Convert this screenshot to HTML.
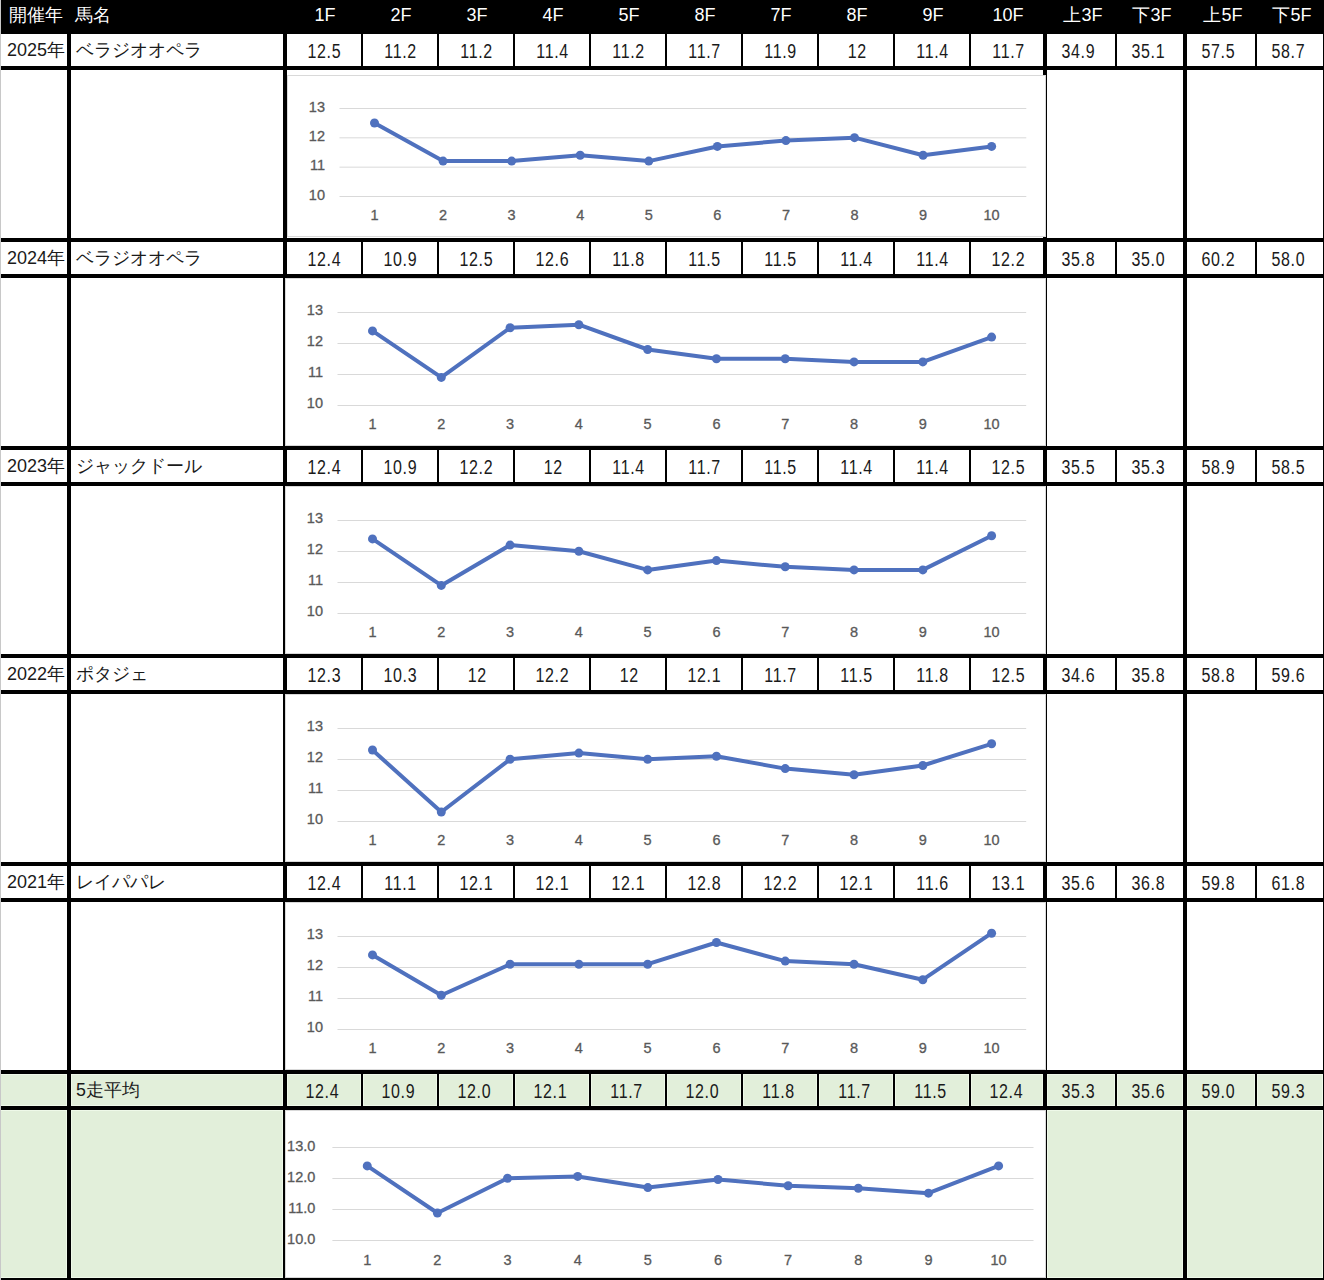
<!DOCTYPE html>
<html><head><meta charset="utf-8"><style>
html,body{margin:0;padding:0;}
body{width:1324px;height:1280px;position:relative;overflow:hidden;background:#fff;font-family:"Liberation Sans",sans-serif;}
body>div{position:absolute;}
.hj,.hd,.yr,.nm,.dv{height:32px;line-height:32px;white-space:nowrap;}
.hj{color:#fff;font-size:18px;text-align:center;height:34px;line-height:31px;}
.hl{text-align:left;}
.hd{color:#fff;font-size:18px;text-align:center;height:34px;line-height:31px;}
.yr{color:#1a1a1a;font-size:18px;text-align:center;line-height:33px;}
.nm{color:#1a1a1a;font-size:17.8px;text-align:left;line-height:33px;}
.dv{color:#1a1a1a;font-size:19.5px;text-align:center;line-height:34px;letter-spacing:0.8px;}
.dv span{display:inline-block;transform:scaleX(0.82);padding-left:0.8px;}
.ax{font-family:"Liberation Sans",sans-serif;font-size:14.5px;fill:#595959;stroke:#595959;stroke-width:0.3px;}
</style></head><body>
<div style="left:0px;top:0px;width:1324px;height:34px;background:#000;"></div>
<div class="hj" style="left:2px;top:0px;width:67px;"><span>開催年</span></div>
<div class="hj hl" style="left:75px;top:0px;width:208px;"><span>馬名</span></div>
<div class="hd" style="left:288px;top:0px;width:74px;"><span>1F</span></div>
<div class="hd" style="left:364px;top:0px;width:74px;"><span>2F</span></div>
<div class="hd" style="left:440px;top:0px;width:74px;"><span>3F</span></div>
<div class="hd" style="left:516px;top:0px;width:74px;"><span>4F</span></div>
<div class="hd" style="left:592px;top:0px;width:74px;"><span>5F</span></div>
<div class="hd" style="left:668px;top:0px;width:74px;"><span>8F</span></div>
<div class="hd" style="left:744px;top:0px;width:74px;"><span>7F</span></div>
<div class="hd" style="left:820px;top:0px;width:74px;"><span>8F</span></div>
<div class="hd" style="left:896px;top:0px;width:74px;"><span>9F</span></div>
<div class="hd" style="left:972px;top:0px;width:72px;"><span>10F</span></div>
<div class="hd" style="left:1049px;top:0px;width:68px;"><span>上3F</span></div>
<div class="hd" style="left:1119px;top:0px;width:66px;"><span>下3F</span></div>
<div class="hd" style="left:1189px;top:0px;width:68px;"><span>上5F</span></div>
<div class="hd" style="left:1259px;top:0px;width:66px;"><span>下5F</span></div>
<div style="left:1px;top:34px;width:1322px;height:204px;background:#fff;"></div>
<div class="yr" style="left:0px;top:34px;width:72px;"><span>2025年</span></div>
<div class="nm" style="left:76px;top:34px;width:207px;"><span>ベラジオオペラ</span></div>
<div class="dv" style="left:287px;top:34px;width:74px;"><span>12.5</span></div>
<div class="dv" style="left:363px;top:34px;width:74px;"><span>11.2</span></div>
<div class="dv" style="left:439px;top:34px;width:74px;"><span>11.2</span></div>
<div class="dv" style="left:515px;top:34px;width:74px;"><span>11.4</span></div>
<div class="dv" style="left:591px;top:34px;width:74px;"><span>11.2</span></div>
<div class="dv" style="left:667px;top:34px;width:74px;"><span>11.7</span></div>
<div class="dv" style="left:743px;top:34px;width:74px;"><span>11.9</span></div>
<div class="dv" style="left:820.3px;top:34px;width:74.0px;"><span>12</span></div>
<div class="dv" style="left:895px;top:34px;width:74px;"><span>11.4</span></div>
<div class="dv" style="left:972px;top:34px;width:72px;"><span>11.7</span></div>
<div class="dv" style="left:1044px;top:34px;width:68px;"><span>34.9</span></div>
<div class="dv" style="left:1114.5px;top:34px;width:66.0px;"><span>35.1</span></div>
<div class="dv" style="left:1184px;top:34px;width:68px;"><span>57.5</span></div>
<div class="dv" style="left:1255px;top:34px;width:66px;"><span>58.7</span></div>
<div style="left:361px;top:34px;width:2px;height:32px;background:#000;"></div>
<div style="left:437px;top:34px;width:2px;height:32px;background:#000;"></div>
<div style="left:513px;top:34px;width:2px;height:32px;background:#000;"></div>
<div style="left:589px;top:34px;width:2px;height:32px;background:#000;"></div>
<div style="left:665px;top:34px;width:2px;height:32px;background:#000;"></div>
<div style="left:741px;top:34px;width:2px;height:32px;background:#000;"></div>
<div style="left:817px;top:34px;width:2px;height:32px;background:#000;"></div>
<div style="left:893px;top:34px;width:2px;height:32px;background:#000;"></div>
<div style="left:969px;top:34px;width:2px;height:32px;background:#000;"></div>
<div style="left:1115px;top:34px;width:2px;height:32px;background:#000;"></div>
<div style="left:1255px;top:34px;width:2px;height:32px;background:#000;"></div>
<div style="left:1px;top:66px;width:1323px;height:4px;background:#000;"></div>
<div style="left:1px;top:238px;width:1323px;height:4px;background:#000;"></div>
<div style="left:1px;top:242px;width:1322px;height:204px;background:#fff;"></div>
<div class="yr" style="left:0px;top:242px;width:72px;"><span>2024年</span></div>
<div class="nm" style="left:76px;top:242px;width:207px;"><span>ベラジオオペラ</span></div>
<div class="dv" style="left:287px;top:242px;width:74px;"><span>12.4</span></div>
<div class="dv" style="left:363px;top:242px;width:74px;"><span>10.9</span></div>
<div class="dv" style="left:439px;top:242px;width:74px;"><span>12.5</span></div>
<div class="dv" style="left:515px;top:242px;width:74px;"><span>12.6</span></div>
<div class="dv" style="left:591px;top:242px;width:74px;"><span>11.8</span></div>
<div class="dv" style="left:667px;top:242px;width:74px;"><span>11.5</span></div>
<div class="dv" style="left:743px;top:242px;width:74px;"><span>11.5</span></div>
<div class="dv" style="left:819px;top:242px;width:74px;"><span>11.4</span></div>
<div class="dv" style="left:895px;top:242px;width:74px;"><span>11.4</span></div>
<div class="dv" style="left:972px;top:242px;width:72px;"><span>12.2</span></div>
<div class="dv" style="left:1044px;top:242px;width:68px;"><span>35.8</span></div>
<div class="dv" style="left:1114.5px;top:242px;width:66.0px;"><span>35.0</span></div>
<div class="dv" style="left:1184px;top:242px;width:68px;"><span>60.2</span></div>
<div class="dv" style="left:1255px;top:242px;width:66px;"><span>58.0</span></div>
<div style="left:361px;top:242px;width:2px;height:32px;background:#000;"></div>
<div style="left:437px;top:242px;width:2px;height:32px;background:#000;"></div>
<div style="left:513px;top:242px;width:2px;height:32px;background:#000;"></div>
<div style="left:589px;top:242px;width:2px;height:32px;background:#000;"></div>
<div style="left:665px;top:242px;width:2px;height:32px;background:#000;"></div>
<div style="left:741px;top:242px;width:2px;height:32px;background:#000;"></div>
<div style="left:817px;top:242px;width:2px;height:32px;background:#000;"></div>
<div style="left:893px;top:242px;width:2px;height:32px;background:#000;"></div>
<div style="left:969px;top:242px;width:2px;height:32px;background:#000;"></div>
<div style="left:1115px;top:242px;width:2px;height:32px;background:#000;"></div>
<div style="left:1255px;top:242px;width:2px;height:32px;background:#000;"></div>
<div style="left:1px;top:274px;width:1323px;height:4px;background:#000;"></div>
<div style="left:1px;top:446px;width:1323px;height:4px;background:#000;"></div>
<div style="left:1px;top:450px;width:1322px;height:204px;background:#fff;"></div>
<div class="yr" style="left:0px;top:450px;width:72px;"><span>2023年</span></div>
<div class="nm" style="left:76px;top:450px;width:207px;"><span>ジャックドール</span></div>
<div class="dv" style="left:287px;top:450px;width:74px;"><span>12.4</span></div>
<div class="dv" style="left:363px;top:450px;width:74px;"><span>10.9</span></div>
<div class="dv" style="left:439px;top:450px;width:74px;"><span>12.2</span></div>
<div class="dv" style="left:516.3px;top:450px;width:74.0px;"><span>12</span></div>
<div class="dv" style="left:591px;top:450px;width:74px;"><span>11.4</span></div>
<div class="dv" style="left:667px;top:450px;width:74px;"><span>11.7</span></div>
<div class="dv" style="left:743px;top:450px;width:74px;"><span>11.5</span></div>
<div class="dv" style="left:819px;top:450px;width:74px;"><span>11.4</span></div>
<div class="dv" style="left:895px;top:450px;width:74px;"><span>11.4</span></div>
<div class="dv" style="left:972px;top:450px;width:72px;"><span>12.5</span></div>
<div class="dv" style="left:1044px;top:450px;width:68px;"><span>35.5</span></div>
<div class="dv" style="left:1114.5px;top:450px;width:66.0px;"><span>35.3</span></div>
<div class="dv" style="left:1184px;top:450px;width:68px;"><span>58.9</span></div>
<div class="dv" style="left:1255px;top:450px;width:66px;"><span>58.5</span></div>
<div style="left:361px;top:450px;width:2px;height:32px;background:#000;"></div>
<div style="left:437px;top:450px;width:2px;height:32px;background:#000;"></div>
<div style="left:513px;top:450px;width:2px;height:32px;background:#000;"></div>
<div style="left:589px;top:450px;width:2px;height:32px;background:#000;"></div>
<div style="left:665px;top:450px;width:2px;height:32px;background:#000;"></div>
<div style="left:741px;top:450px;width:2px;height:32px;background:#000;"></div>
<div style="left:817px;top:450px;width:2px;height:32px;background:#000;"></div>
<div style="left:893px;top:450px;width:2px;height:32px;background:#000;"></div>
<div style="left:969px;top:450px;width:2px;height:32px;background:#000;"></div>
<div style="left:1115px;top:450px;width:2px;height:32px;background:#000;"></div>
<div style="left:1255px;top:450px;width:2px;height:32px;background:#000;"></div>
<div style="left:1px;top:482px;width:1323px;height:4px;background:#000;"></div>
<div style="left:1px;top:654px;width:1323px;height:4px;background:#000;"></div>
<div style="left:1px;top:658px;width:1322px;height:204px;background:#fff;"></div>
<div class="yr" style="left:0px;top:658px;width:72px;"><span>2022年</span></div>
<div class="nm" style="left:76px;top:658px;width:207px;"><span>ポタジェ</span></div>
<div class="dv" style="left:287px;top:658px;width:74px;"><span>12.3</span></div>
<div class="dv" style="left:363px;top:658px;width:74px;"><span>10.3</span></div>
<div class="dv" style="left:440.3px;top:658px;width:73.99999999999994px;"><span>12</span></div>
<div class="dv" style="left:515px;top:658px;width:74px;"><span>12.2</span></div>
<div class="dv" style="left:592.3px;top:658px;width:74.0px;"><span>12</span></div>
<div class="dv" style="left:667px;top:658px;width:74px;"><span>12.1</span></div>
<div class="dv" style="left:743px;top:658px;width:74px;"><span>11.7</span></div>
<div class="dv" style="left:819px;top:658px;width:74px;"><span>11.5</span></div>
<div class="dv" style="left:895px;top:658px;width:74px;"><span>11.8</span></div>
<div class="dv" style="left:972px;top:658px;width:72px;"><span>12.5</span></div>
<div class="dv" style="left:1044px;top:658px;width:68px;"><span>34.6</span></div>
<div class="dv" style="left:1114.5px;top:658px;width:66.0px;"><span>35.8</span></div>
<div class="dv" style="left:1184px;top:658px;width:68px;"><span>58.8</span></div>
<div class="dv" style="left:1255px;top:658px;width:66px;"><span>59.6</span></div>
<div style="left:361px;top:658px;width:2px;height:32px;background:#000;"></div>
<div style="left:437px;top:658px;width:2px;height:32px;background:#000;"></div>
<div style="left:513px;top:658px;width:2px;height:32px;background:#000;"></div>
<div style="left:589px;top:658px;width:2px;height:32px;background:#000;"></div>
<div style="left:665px;top:658px;width:2px;height:32px;background:#000;"></div>
<div style="left:741px;top:658px;width:2px;height:32px;background:#000;"></div>
<div style="left:817px;top:658px;width:2px;height:32px;background:#000;"></div>
<div style="left:893px;top:658px;width:2px;height:32px;background:#000;"></div>
<div style="left:969px;top:658px;width:2px;height:32px;background:#000;"></div>
<div style="left:1115px;top:658px;width:2px;height:32px;background:#000;"></div>
<div style="left:1255px;top:658px;width:2px;height:32px;background:#000;"></div>
<div style="left:1px;top:690px;width:1323px;height:4px;background:#000;"></div>
<div style="left:1px;top:862px;width:1323px;height:4px;background:#000;"></div>
<div style="left:1px;top:866px;width:1322px;height:204px;background:#fff;"></div>
<div class="yr" style="left:0px;top:866px;width:72px;"><span>2021年</span></div>
<div class="nm" style="left:76px;top:866px;width:207px;"><span>レイパパレ</span></div>
<div class="dv" style="left:287px;top:866px;width:74px;"><span>12.4</span></div>
<div class="dv" style="left:363px;top:866px;width:74px;"><span>11.1</span></div>
<div class="dv" style="left:439px;top:866px;width:74px;"><span>12.1</span></div>
<div class="dv" style="left:515px;top:866px;width:74px;"><span>12.1</span></div>
<div class="dv" style="left:591px;top:866px;width:74px;"><span>12.1</span></div>
<div class="dv" style="left:667px;top:866px;width:74px;"><span>12.8</span></div>
<div class="dv" style="left:743px;top:866px;width:74px;"><span>12.2</span></div>
<div class="dv" style="left:819px;top:866px;width:74px;"><span>12.1</span></div>
<div class="dv" style="left:895px;top:866px;width:74px;"><span>11.6</span></div>
<div class="dv" style="left:972px;top:866px;width:72px;"><span>13.1</span></div>
<div class="dv" style="left:1044px;top:866px;width:68px;"><span>35.6</span></div>
<div class="dv" style="left:1114.5px;top:866px;width:66.0px;"><span>36.8</span></div>
<div class="dv" style="left:1184px;top:866px;width:68px;"><span>59.8</span></div>
<div class="dv" style="left:1255px;top:866px;width:66px;"><span>61.8</span></div>
<div style="left:361px;top:866px;width:2px;height:32px;background:#000;"></div>
<div style="left:437px;top:866px;width:2px;height:32px;background:#000;"></div>
<div style="left:513px;top:866px;width:2px;height:32px;background:#000;"></div>
<div style="left:589px;top:866px;width:2px;height:32px;background:#000;"></div>
<div style="left:665px;top:866px;width:2px;height:32px;background:#000;"></div>
<div style="left:741px;top:866px;width:2px;height:32px;background:#000;"></div>
<div style="left:817px;top:866px;width:2px;height:32px;background:#000;"></div>
<div style="left:893px;top:866px;width:2px;height:32px;background:#000;"></div>
<div style="left:969px;top:866px;width:2px;height:32px;background:#000;"></div>
<div style="left:1115px;top:866px;width:2px;height:32px;background:#000;"></div>
<div style="left:1255px;top:866px;width:2px;height:32px;background:#000;"></div>
<div style="left:1px;top:898px;width:1323px;height:4px;background:#000;"></div>
<div style="left:1px;top:1070px;width:1323px;height:4px;background:#000;"></div>
<div style="left:1px;top:1074px;width:1322px;height:204px;background:#e2efda;"></div>
<div style="left:1px;top:1074px;width:1322px;height:1px;background:#eff9e9;"></div>
<div style="left:1px;top:1105px;width:1322px;height:1px;background:#eff9e9;"></div>
<div style="left:1px;top:1110px;width:1322px;height:1px;background:#eff9e9;"></div>
<div style="left:1px;top:1277px;width:1322px;height:1px;background:#eff9e9;"></div>
<div style="left:66px;top:1074px;width:1px;height:204px;background:#eff9e9;"></div>
<div style="left:71px;top:1074px;width:1px;height:204px;background:#eff9e9;"></div>
<div style="left:282px;top:1074px;width:1px;height:204px;background:#eff9e9;"></div>
<div style="left:287px;top:1074px;width:1px;height:204px;background:#eff9e9;"></div>
<div style="left:1042px;top:1074px;width:1px;height:204px;background:#eff9e9;"></div>
<div style="left:1047px;top:1074px;width:1px;height:204px;background:#eff9e9;"></div>
<div style="left:1182px;top:1074px;width:1px;height:204px;background:#eff9e9;"></div>
<div style="left:1187px;top:1074px;width:1px;height:204px;background:#eff9e9;"></div>
<div style="left:1322px;top:1074px;width:1px;height:204px;background:#eff9e9;"></div>
<div style="left:360px;top:1074px;width:1px;height:32px;background:#eff9e9;"></div>
<div style="left:363px;top:1074px;width:1px;height:32px;background:#eff9e9;"></div>
<div style="left:436px;top:1074px;width:1px;height:32px;background:#eff9e9;"></div>
<div style="left:439px;top:1074px;width:1px;height:32px;background:#eff9e9;"></div>
<div style="left:512px;top:1074px;width:1px;height:32px;background:#eff9e9;"></div>
<div style="left:515px;top:1074px;width:1px;height:32px;background:#eff9e9;"></div>
<div style="left:588px;top:1074px;width:1px;height:32px;background:#eff9e9;"></div>
<div style="left:591px;top:1074px;width:1px;height:32px;background:#eff9e9;"></div>
<div style="left:664px;top:1074px;width:1px;height:32px;background:#eff9e9;"></div>
<div style="left:667px;top:1074px;width:1px;height:32px;background:#eff9e9;"></div>
<div style="left:740px;top:1074px;width:1px;height:32px;background:#eff9e9;"></div>
<div style="left:743px;top:1074px;width:1px;height:32px;background:#eff9e9;"></div>
<div style="left:816px;top:1074px;width:1px;height:32px;background:#eff9e9;"></div>
<div style="left:819px;top:1074px;width:1px;height:32px;background:#eff9e9;"></div>
<div style="left:892px;top:1074px;width:1px;height:32px;background:#eff9e9;"></div>
<div style="left:895px;top:1074px;width:1px;height:32px;background:#eff9e9;"></div>
<div style="left:968px;top:1074px;width:1px;height:32px;background:#eff9e9;"></div>
<div style="left:971px;top:1074px;width:1px;height:32px;background:#eff9e9;"></div>
<div style="left:1114px;top:1074px;width:1px;height:32px;background:#eff9e9;"></div>
<div style="left:1117px;top:1074px;width:1px;height:32px;background:#eff9e9;"></div>
<div style="left:1254px;top:1074px;width:1px;height:32px;background:#eff9e9;"></div>
<div style="left:1257px;top:1074px;width:1px;height:32px;background:#eff9e9;"></div>
<div class="nm" style="left:76px;top:1074px;width:207px;"><span>5走平均</span></div>
<div class="dv" style="left:285px;top:1074px;width:74px;"><span>12.4</span></div>
<div class="dv" style="left:361px;top:1074px;width:74px;"><span>10.9</span></div>
<div class="dv" style="left:437px;top:1074px;width:74px;"><span>12.0</span></div>
<div class="dv" style="left:513px;top:1074px;width:74px;"><span>12.1</span></div>
<div class="dv" style="left:589px;top:1074px;width:74px;"><span>11.7</span></div>
<div class="dv" style="left:665px;top:1074px;width:74px;"><span>12.0</span></div>
<div class="dv" style="left:741px;top:1074px;width:74px;"><span>11.8</span></div>
<div class="dv" style="left:817px;top:1074px;width:74px;"><span>11.7</span></div>
<div class="dv" style="left:893px;top:1074px;width:74px;"><span>11.5</span></div>
<div class="dv" style="left:970px;top:1074px;width:72px;"><span>12.4</span></div>
<div class="dv" style="left:1044px;top:1074px;width:68px;"><span>35.3</span></div>
<div class="dv" style="left:1114.5px;top:1074px;width:66.0px;"><span>35.6</span></div>
<div class="dv" style="left:1184px;top:1074px;width:68px;"><span>59.0</span></div>
<div class="dv" style="left:1255px;top:1074px;width:66px;"><span>59.3</span></div>
<div style="left:361px;top:1074px;width:2px;height:32px;background:#000;"></div>
<div style="left:437px;top:1074px;width:2px;height:32px;background:#000;"></div>
<div style="left:513px;top:1074px;width:2px;height:32px;background:#000;"></div>
<div style="left:589px;top:1074px;width:2px;height:32px;background:#000;"></div>
<div style="left:665px;top:1074px;width:2px;height:32px;background:#000;"></div>
<div style="left:741px;top:1074px;width:2px;height:32px;background:#000;"></div>
<div style="left:817px;top:1074px;width:2px;height:32px;background:#000;"></div>
<div style="left:893px;top:1074px;width:2px;height:32px;background:#000;"></div>
<div style="left:969px;top:1074px;width:2px;height:32px;background:#000;"></div>
<div style="left:1115px;top:1074px;width:2px;height:32px;background:#000;"></div>
<div style="left:1255px;top:1074px;width:2px;height:32px;background:#000;"></div>
<div style="left:1px;top:1106px;width:1323px;height:4px;background:#000;"></div>
<div style="left:1px;top:1278px;width:1323px;height:2px;background:#000;"></div>
<div style="left:67px;top:34px;width:4px;height:1246px;background:#000;"></div>
<div style="left:283px;top:34px;width:4px;height:1246px;background:#000;"></div>
<div style="left:1043px;top:34px;width:4px;height:1246px;background:#000;"></div>
<div style="left:1183px;top:34px;width:4px;height:1246px;background:#000;"></div>
<div style="left:1323px;top:34px;width:1px;height:1246px;background:#000;"></div>
<div style="left:0px;top:0px;width:1px;height:1280px;background:#c8c8c8;"></div>
<svg style="position:absolute;left:287px;top:75px" width="759" height="162" viewBox="0 0 759 162"><rect x="0" y="0" width="759" height="162" fill="#fff"/><rect x="0.5" y="0.5" width="758" height="161" fill="none" stroke="#d9d9d9" stroke-width="1"/><line x1="52.5" y1="33.50" x2="739.3" y2="33.50" stroke="#d9d9d9" stroke-width="1"/><text x="38" y="36.50" class="ax" text-anchor="end">13</text><line x1="52.5" y1="62.83" x2="739.3" y2="62.83" stroke="#d9d9d9" stroke-width="1"/><text x="38" y="65.83" class="ax" text-anchor="end">12</text><line x1="52.5" y1="92.17" x2="739.3" y2="92.17" stroke="#d9d9d9" stroke-width="1"/><text x="38" y="95.17" class="ax" text-anchor="end">11</text><line x1="52.5" y1="121.50" x2="739.3" y2="121.50" stroke="#d9d9d9" stroke-width="1"/><text x="38" y="124.50" class="ax" text-anchor="end">10</text><text x="87.50" y="145.00" class="ax" text-anchor="middle">1</text><text x="156.07" y="145.00" class="ax" text-anchor="middle">2</text><text x="224.64" y="145.00" class="ax" text-anchor="middle">3</text><text x="293.21" y="145.00" class="ax" text-anchor="middle">4</text><text x="361.78" y="145.00" class="ax" text-anchor="middle">5</text><text x="430.35" y="145.00" class="ax" text-anchor="middle">6</text><text x="498.92" y="145.00" class="ax" text-anchor="middle">7</text><text x="567.49" y="145.00" class="ax" text-anchor="middle">8</text><text x="636.06" y="145.00" class="ax" text-anchor="middle">9</text><text x="704.63" y="145.00" class="ax" text-anchor="middle">10</text><polyline fill="none" stroke="#4f71be" stroke-width="4" stroke-linejoin="round" points="87.50,47.97 156.07,86.10 224.64,86.10 293.21,80.23 361.78,86.10 430.35,71.43 498.92,65.57 567.49,62.63 636.06,80.23 704.63,71.43"/><circle cx="87.50" cy="47.97" r="4.5" fill="#4f71be"/><circle cx="156.07" cy="86.10" r="4.5" fill="#4f71be"/><circle cx="224.64" cy="86.10" r="4.5" fill="#4f71be"/><circle cx="293.21" cy="80.23" r="4.5" fill="#4f71be"/><circle cx="361.78" cy="86.10" r="4.5" fill="#4f71be"/><circle cx="430.35" cy="71.43" r="4.5" fill="#4f71be"/><circle cx="498.92" cy="65.57" r="4.5" fill="#4f71be"/><circle cx="567.49" cy="62.63" r="4.5" fill="#4f71be"/><circle cx="636.06" cy="80.23" r="4.5" fill="#4f71be"/><circle cx="704.63" cy="71.43" r="4.5" fill="#4f71be"/></svg>
<svg style="position:absolute;left:285px;top:278px" width="761" height="168" viewBox="0 0 761 168"><rect x="0" y="0" width="761" height="168" fill="#fff"/><rect x="0.5" y="0.5" width="760" height="167" fill="none" stroke="#d9d9d9" stroke-width="1"/><line x1="52.5" y1="34.50" x2="741.2" y2="34.50" stroke="#d9d9d9" stroke-width="1"/><text x="38" y="36.50" class="ax" text-anchor="end">13</text><line x1="52.5" y1="65.50" x2="741.2" y2="65.50" stroke="#d9d9d9" stroke-width="1"/><text x="38" y="67.50" class="ax" text-anchor="end">12</text><line x1="52.5" y1="96.50" x2="741.2" y2="96.50" stroke="#d9d9d9" stroke-width="1"/><text x="38" y="98.50" class="ax" text-anchor="end">11</text><line x1="52.5" y1="127.50" x2="741.2" y2="127.50" stroke="#d9d9d9" stroke-width="1"/><text x="38" y="129.50" class="ax" text-anchor="end">10</text><text x="87.50" y="151.20" class="ax" text-anchor="middle">1</text><text x="156.29" y="151.20" class="ax" text-anchor="middle">2</text><text x="225.08" y="151.20" class="ax" text-anchor="middle">3</text><text x="293.87" y="151.20" class="ax" text-anchor="middle">4</text><text x="362.66" y="151.20" class="ax" text-anchor="middle">5</text><text x="431.45" y="151.20" class="ax" text-anchor="middle">6</text><text x="500.24" y="151.20" class="ax" text-anchor="middle">7</text><text x="569.03" y="151.20" class="ax" text-anchor="middle">8</text><text x="637.82" y="151.20" class="ax" text-anchor="middle">9</text><text x="706.61" y="151.20" class="ax" text-anchor="middle">10</text><polyline fill="none" stroke="#4f71be" stroke-width="4" stroke-linejoin="round" points="87.50,52.90 156.29,99.40 225.08,49.80 293.87,46.70 362.66,71.50 431.45,80.80 500.24,80.80 569.03,83.90 637.82,83.90 706.61,59.10"/><circle cx="87.50" cy="52.90" r="4.5" fill="#4f71be"/><circle cx="156.29" cy="99.40" r="4.5" fill="#4f71be"/><circle cx="225.08" cy="49.80" r="4.5" fill="#4f71be"/><circle cx="293.87" cy="46.70" r="4.5" fill="#4f71be"/><circle cx="362.66" cy="71.50" r="4.5" fill="#4f71be"/><circle cx="431.45" cy="80.80" r="4.5" fill="#4f71be"/><circle cx="500.24" cy="80.80" r="4.5" fill="#4f71be"/><circle cx="569.03" cy="83.90" r="4.5" fill="#4f71be"/><circle cx="637.82" cy="83.90" r="4.5" fill="#4f71be"/><circle cx="706.61" cy="59.10" r="4.5" fill="#4f71be"/></svg>
<svg style="position:absolute;left:285px;top:486px" width="761" height="168" viewBox="0 0 761 168"><rect x="0" y="0" width="761" height="168" fill="#fff"/><rect x="0.5" y="0.5" width="760" height="167" fill="none" stroke="#d9d9d9" stroke-width="1"/><line x1="52.5" y1="34.50" x2="741.2" y2="34.50" stroke="#d9d9d9" stroke-width="1"/><text x="38" y="36.50" class="ax" text-anchor="end">13</text><line x1="52.5" y1="65.50" x2="741.2" y2="65.50" stroke="#d9d9d9" stroke-width="1"/><text x="38" y="67.50" class="ax" text-anchor="end">12</text><line x1="52.5" y1="96.50" x2="741.2" y2="96.50" stroke="#d9d9d9" stroke-width="1"/><text x="38" y="98.50" class="ax" text-anchor="end">11</text><line x1="52.5" y1="127.50" x2="741.2" y2="127.50" stroke="#d9d9d9" stroke-width="1"/><text x="38" y="129.50" class="ax" text-anchor="end">10</text><text x="87.50" y="151.20" class="ax" text-anchor="middle">1</text><text x="156.29" y="151.20" class="ax" text-anchor="middle">2</text><text x="225.08" y="151.20" class="ax" text-anchor="middle">3</text><text x="293.87" y="151.20" class="ax" text-anchor="middle">4</text><text x="362.66" y="151.20" class="ax" text-anchor="middle">5</text><text x="431.45" y="151.20" class="ax" text-anchor="middle">6</text><text x="500.24" y="151.20" class="ax" text-anchor="middle">7</text><text x="569.03" y="151.20" class="ax" text-anchor="middle">8</text><text x="637.82" y="151.20" class="ax" text-anchor="middle">9</text><text x="706.61" y="151.20" class="ax" text-anchor="middle">10</text><polyline fill="none" stroke="#4f71be" stroke-width="4" stroke-linejoin="round" points="87.50,52.90 156.29,99.40 225.08,59.10 293.87,65.30 362.66,83.90 431.45,74.60 500.24,80.80 569.03,83.90 637.82,83.90 706.61,49.80"/><circle cx="87.50" cy="52.90" r="4.5" fill="#4f71be"/><circle cx="156.29" cy="99.40" r="4.5" fill="#4f71be"/><circle cx="225.08" cy="59.10" r="4.5" fill="#4f71be"/><circle cx="293.87" cy="65.30" r="4.5" fill="#4f71be"/><circle cx="362.66" cy="83.90" r="4.5" fill="#4f71be"/><circle cx="431.45" cy="74.60" r="4.5" fill="#4f71be"/><circle cx="500.24" cy="80.80" r="4.5" fill="#4f71be"/><circle cx="569.03" cy="83.90" r="4.5" fill="#4f71be"/><circle cx="637.82" cy="83.90" r="4.5" fill="#4f71be"/><circle cx="706.61" cy="49.80" r="4.5" fill="#4f71be"/></svg>
<svg style="position:absolute;left:285px;top:694px" width="761" height="168" viewBox="0 0 761 168"><rect x="0" y="0" width="761" height="168" fill="#fff"/><rect x="0.5" y="0.5" width="760" height="167" fill="none" stroke="#d9d9d9" stroke-width="1"/><line x1="52.5" y1="34.50" x2="741.2" y2="34.50" stroke="#d9d9d9" stroke-width="1"/><text x="38" y="36.50" class="ax" text-anchor="end">13</text><line x1="52.5" y1="65.50" x2="741.2" y2="65.50" stroke="#d9d9d9" stroke-width="1"/><text x="38" y="67.50" class="ax" text-anchor="end">12</text><line x1="52.5" y1="96.50" x2="741.2" y2="96.50" stroke="#d9d9d9" stroke-width="1"/><text x="38" y="98.50" class="ax" text-anchor="end">11</text><line x1="52.5" y1="127.50" x2="741.2" y2="127.50" stroke="#d9d9d9" stroke-width="1"/><text x="38" y="129.50" class="ax" text-anchor="end">10</text><text x="87.50" y="151.20" class="ax" text-anchor="middle">1</text><text x="156.29" y="151.20" class="ax" text-anchor="middle">2</text><text x="225.08" y="151.20" class="ax" text-anchor="middle">3</text><text x="293.87" y="151.20" class="ax" text-anchor="middle">4</text><text x="362.66" y="151.20" class="ax" text-anchor="middle">5</text><text x="431.45" y="151.20" class="ax" text-anchor="middle">6</text><text x="500.24" y="151.20" class="ax" text-anchor="middle">7</text><text x="569.03" y="151.20" class="ax" text-anchor="middle">8</text><text x="637.82" y="151.20" class="ax" text-anchor="middle">9</text><text x="706.61" y="151.20" class="ax" text-anchor="middle">10</text><polyline fill="none" stroke="#4f71be" stroke-width="4" stroke-linejoin="round" points="87.50,56.00 156.29,118.00 225.08,65.30 293.87,59.10 362.66,65.30 431.45,62.20 500.24,74.60 569.03,80.80 637.82,71.50 706.61,49.80"/><circle cx="87.50" cy="56.00" r="4.5" fill="#4f71be"/><circle cx="156.29" cy="118.00" r="4.5" fill="#4f71be"/><circle cx="225.08" cy="65.30" r="4.5" fill="#4f71be"/><circle cx="293.87" cy="59.10" r="4.5" fill="#4f71be"/><circle cx="362.66" cy="65.30" r="4.5" fill="#4f71be"/><circle cx="431.45" cy="62.20" r="4.5" fill="#4f71be"/><circle cx="500.24" cy="74.60" r="4.5" fill="#4f71be"/><circle cx="569.03" cy="80.80" r="4.5" fill="#4f71be"/><circle cx="637.82" cy="71.50" r="4.5" fill="#4f71be"/><circle cx="706.61" cy="49.80" r="4.5" fill="#4f71be"/></svg>
<svg style="position:absolute;left:285px;top:902px" width="761" height="168" viewBox="0 0 761 168"><rect x="0" y="0" width="761" height="168" fill="#fff"/><rect x="0.5" y="0.5" width="760" height="167" fill="none" stroke="#d9d9d9" stroke-width="1"/><line x1="52.5" y1="34.50" x2="741.2" y2="34.50" stroke="#d9d9d9" stroke-width="1"/><text x="38" y="36.50" class="ax" text-anchor="end">13</text><line x1="52.5" y1="65.50" x2="741.2" y2="65.50" stroke="#d9d9d9" stroke-width="1"/><text x="38" y="67.50" class="ax" text-anchor="end">12</text><line x1="52.5" y1="96.50" x2="741.2" y2="96.50" stroke="#d9d9d9" stroke-width="1"/><text x="38" y="98.50" class="ax" text-anchor="end">11</text><line x1="52.5" y1="127.50" x2="741.2" y2="127.50" stroke="#d9d9d9" stroke-width="1"/><text x="38" y="129.50" class="ax" text-anchor="end">10</text><text x="87.50" y="151.20" class="ax" text-anchor="middle">1</text><text x="156.29" y="151.20" class="ax" text-anchor="middle">2</text><text x="225.08" y="151.20" class="ax" text-anchor="middle">3</text><text x="293.87" y="151.20" class="ax" text-anchor="middle">4</text><text x="362.66" y="151.20" class="ax" text-anchor="middle">5</text><text x="431.45" y="151.20" class="ax" text-anchor="middle">6</text><text x="500.24" y="151.20" class="ax" text-anchor="middle">7</text><text x="569.03" y="151.20" class="ax" text-anchor="middle">8</text><text x="637.82" y="151.20" class="ax" text-anchor="middle">9</text><text x="706.61" y="151.20" class="ax" text-anchor="middle">10</text><polyline fill="none" stroke="#4f71be" stroke-width="4" stroke-linejoin="round" points="87.50,52.90 156.29,93.20 225.08,62.20 293.87,62.20 362.66,62.20 431.45,40.50 500.24,59.10 569.03,62.20 637.82,77.70 706.61,31.20"/><circle cx="87.50" cy="52.90" r="4.5" fill="#4f71be"/><circle cx="156.29" cy="93.20" r="4.5" fill="#4f71be"/><circle cx="225.08" cy="62.20" r="4.5" fill="#4f71be"/><circle cx="293.87" cy="62.20" r="4.5" fill="#4f71be"/><circle cx="362.66" cy="62.20" r="4.5" fill="#4f71be"/><circle cx="431.45" cy="40.50" r="4.5" fill="#4f71be"/><circle cx="500.24" cy="59.10" r="4.5" fill="#4f71be"/><circle cx="569.03" cy="62.20" r="4.5" fill="#4f71be"/><circle cx="637.82" cy="77.70" r="4.5" fill="#4f71be"/><circle cx="706.61" cy="31.20" r="4.5" fill="#4f71be"/></svg>
<svg style="position:absolute;left:285px;top:1110px" width="761" height="168" viewBox="0 0 761 168"><rect x="0" y="0" width="761" height="168" fill="#fff"/><rect x="0.5" y="0.5" width="760" height="167" fill="none" stroke="#d9d9d9" stroke-width="1"/><line x1="47.39999999999998" y1="37.50" x2="748.5" y2="37.50" stroke="#d9d9d9" stroke-width="1"/><text x="30.30000000000001" y="40.50" class="ax" text-anchor="end">13.0</text><line x1="47.39999999999998" y1="68.50" x2="748.5" y2="68.50" stroke="#d9d9d9" stroke-width="1"/><text x="30.30000000000001" y="71.50" class="ax" text-anchor="end">12.0</text><line x1="47.39999999999998" y1="99.50" x2="748.5" y2="99.50" stroke="#d9d9d9" stroke-width="1"/><text x="30.30000000000001" y="102.50" class="ax" text-anchor="end">11.0</text><line x1="47.39999999999998" y1="130.50" x2="748.5" y2="130.50" stroke="#d9d9d9" stroke-width="1"/><text x="30.30000000000001" y="133.50" class="ax" text-anchor="end">10.0</text><text x="82.25" y="155.00" class="ax" text-anchor="middle">1</text><text x="152.40" y="155.00" class="ax" text-anchor="middle">2</text><text x="222.55" y="155.00" class="ax" text-anchor="middle">3</text><text x="292.70" y="155.00" class="ax" text-anchor="middle">4</text><text x="362.85" y="155.00" class="ax" text-anchor="middle">5</text><text x="433.00" y="155.00" class="ax" text-anchor="middle">6</text><text x="503.15" y="155.00" class="ax" text-anchor="middle">7</text><text x="573.30" y="155.00" class="ax" text-anchor="middle">8</text><text x="643.45" y="155.00" class="ax" text-anchor="middle">9</text><text x="713.60" y="155.00" class="ax" text-anchor="middle">10</text><polyline fill="none" stroke="#4f71be" stroke-width="4" stroke-linejoin="round" points="82.25,55.90 152.40,103.02 222.55,68.30 292.70,66.44 362.85,77.60 433.00,69.54 503.15,75.74 573.30,78.22 643.45,83.18 713.60,55.90"/><circle cx="82.25" cy="55.90" r="4.5" fill="#4f71be"/><circle cx="152.40" cy="103.02" r="4.5" fill="#4f71be"/><circle cx="222.55" cy="68.30" r="4.5" fill="#4f71be"/><circle cx="292.70" cy="66.44" r="4.5" fill="#4f71be"/><circle cx="362.85" cy="77.60" r="4.5" fill="#4f71be"/><circle cx="433.00" cy="69.54" r="4.5" fill="#4f71be"/><circle cx="503.15" cy="75.74" r="4.5" fill="#4f71be"/><circle cx="573.30" cy="78.22" r="4.5" fill="#4f71be"/><circle cx="643.45" cy="83.18" r="4.5" fill="#4f71be"/><circle cx="713.60" cy="55.90" r="4.5" fill="#4f71be"/></svg>
</body></html>
